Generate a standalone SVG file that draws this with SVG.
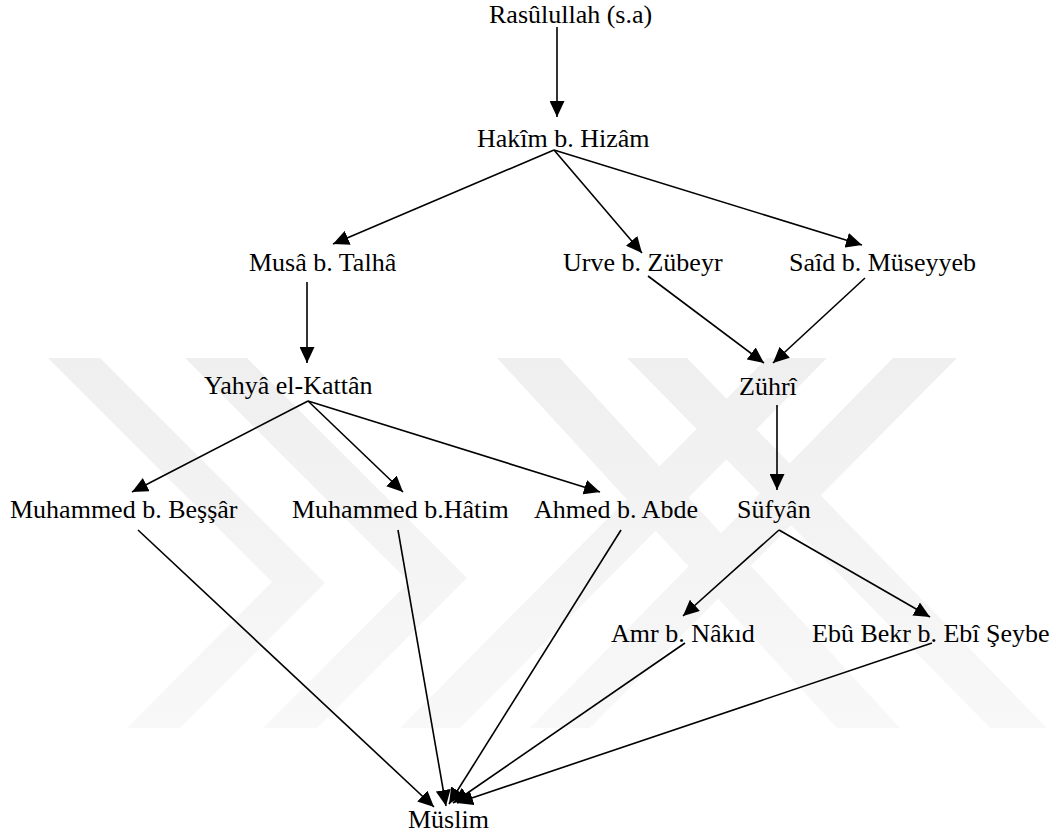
<svg xmlns="http://www.w3.org/2000/svg" width="1057" height="838" viewBox="0 0 1057 838">
  <defs>
    <marker id="arr" markerUnits="userSpaceOnUse" markerWidth="17" markerHeight="15" refX="16" refY="7.5" orient="auto">
      <path d="M0,0 L16,7.5 L0,15 Z" fill="#000"/>
    </marker>
    <linearGradient id="wm" x1="0" y1="0" x2="0" y2="1">
      <stop offset="0" stop-color="#efefef"/>
      <stop offset="1" stop-color="#f8f8f8"/>
    </linearGradient>
  </defs>
  <style>
    text { font-family: "Liberation Serif", "Times New Roman", serif; font-size: 26px; fill: #000; }
    .e { stroke: #000; stroke-width: 1.6; fill: none; marker-end: url(#arr); }
    .wm { fill: url(#wm); }
  </style>
  <rect width="1057" height="838" fill="#fff"/>
  <g id="watermark">
    <polygon class="wm" points="48,358 100,358 325,583 180,728 127,728 272,582"/>
    <polygon class="wm" points="185,358 247,358 467,578 317,728 263,728 409,582"/>
    <polygon class="wm" points="497,358 560,358 900,728 837,728"/>
    <polygon class="wm" points="767,358 827,358 460,728 400,728"/>
    <polygon class="wm" points="627,358 687,358 1047,728 990,728"/>
    <polygon class="wm" points="893,358 957,358 590,728 530,728"/>
  </g>
  <g id="connectors">
    <line class="e" x1="557" y1="27" x2="557" y2="117"/>
    <line class="e" x1="554" y1="150" x2="333" y2="244"/>
    <line class="e" x1="554" y1="150" x2="642" y2="253"/>
    <line class="e" x1="554" y1="150" x2="862" y2="245"/>
    <line class="e" x1="648" y1="276" x2="764" y2="363"/>
    <line class="e" x1="865" y1="278" x2="773" y2="363"/>
    <line class="e" x1="307" y1="282" x2="307" y2="363"/>
    <line class="e" x1="308" y1="401" x2="132" y2="492"/>
    <line class="e" x1="308" y1="401" x2="403" y2="492"/>
    <line class="e" x1="308" y1="401" x2="600" y2="492"/>
    <line class="e" x1="777" y1="405" x2="777" y2="490"/>
    <line class="e" x1="779" y1="530" x2="683" y2="616"/>
    <line class="e" x1="779" y1="530" x2="930" y2="617"/>
    <line class="e" x1="138" y1="530" x2="434" y2="807"/>
    <line class="e" x1="398" y1="530" x2="446" y2="806"/>
    <line class="e" x1="621" y1="530" x2="449" y2="804"/>
    <line class="e" x1="685" y1="643" x2="453" y2="803"/>
    <line class="e" x1="932" y1="643" x2="457" y2="803"/>
  </g>
  <g id="n-rasulullah"><text x="489" y="23">Rasûlullah (s.a)</text></g>
  <g id="n-hakim"><text x="477" y="147">Hakîm b. Hizâm</text></g>
  <g id="n-musa"><text x="249" y="271">Musâ b. Talhâ</text></g>
  <g id="n-urve"><text x="563" y="271">Urve b. Zübeyr</text></g>
  <g id="n-said"><text x="789" y="271">Saîd b. Müseyyeb</text></g>
  <g id="n-yahya"><text x="204" y="394">Yahyâ el-Kattân</text></g>
  <g id="n-zuhri"><text x="739" y="395">Zührî</text></g>
  <g id="n-bessar"><text x="10" y="518">Muhammed b. Beşşâr</text></g>
  <g id="n-hatim"><text x="292" y="518">Muhammed b.Hâtim</text></g>
  <g id="n-ahmed"><text x="534" y="518">Ahmed b. Abde</text></g>
  <g id="n-sufyan"><text x="737" y="518">Süfyân</text></g>
  <g id="n-amr"><text x="611" y="642">Amr b. Nâkıd</text></g>
  <g id="n-ebubekr"><text x="812" y="642">Ebû Bekr b. Ebî Şeybe</text></g>
  <g id="n-muslim"><text x="408" y="828">Müslim</text></g>
</svg>
